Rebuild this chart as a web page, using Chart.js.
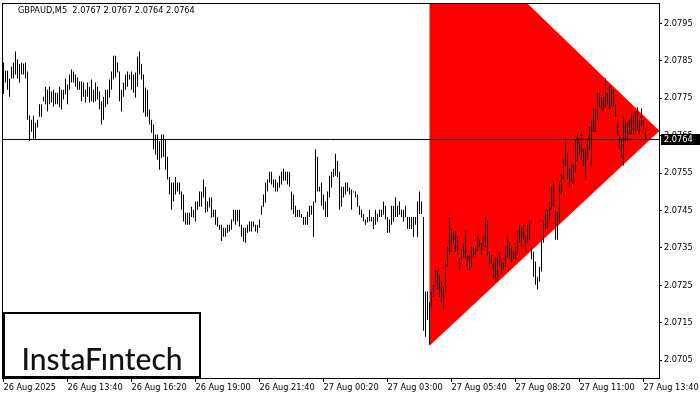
<!DOCTYPE html>
<html>
<head>
<meta charset="utf-8">
<script src="https://cdn.jsdelivr.net/npm/chart.js@4.4.1/dist/chart.umd.min.js"></script>
<style>
  html, body { margin: 0; padding: 0; background: #fff; }
  #wrap { width: 700px; height: 400px; }
</style>
</head>
<body>
<div id="wrap"><canvas id="chart" width="700" height="400"></canvas></div>
<script>
// GBPAUD M5 bars (high / low per bar)
const highs = [
  2.07846,2.07824,2.07824,2.07803,2.07835,2.07846,2.07875,2.07854,2.07841,2.07846,
  2.07843,2.07846,2.07822,2.07704,2.07693,2.07704,2.07685,2.07693,2.07734,2.07734,
  2.07754,2.07781,2.07773,2.07781,2.07768,2.07773,2.07765,2.07765,2.07781,2.07773,
  2.07773,2.07803,2.07787,2.07814,2.07827,2.07822,2.07814,2.07806,2.07795,2.07795,
  2.07792,2.07773,2.07792,2.07781,2.07800,2.07773,2.07792,2.07781,2.07768,2.07742,
  2.07754,2.07773,2.07773,2.07800,2.07822,2.07864,2.07864,2.07846,2.07822,2.07773,
  2.07792,2.07814,2.07822,2.07814,2.07822,2.07814,2.07819,2.07862,2.07875,2.07841,
  2.07814,2.07779,2.07773,2.07720,2.07693,2.07680,2.07653,2.07653,2.07635,2.07653,
  2.07653,2.07640,2.07594,2.07540,2.07525,2.07525,2.07540,2.07525,2.07525,2.07501,
  2.07493,2.07444,2.07444,2.07444,2.07460,2.07452,2.07474,2.07474,2.07501,2.07501,
  2.07533,2.07514,2.07474,2.07485,2.07485,2.07452,2.07452,2.07433,2.07412,2.07412,
  2.07404,2.07404,2.07412,2.07412,2.07426,2.07452,2.07452,2.07452,2.07452,2.07412,
  2.07404,2.07404,2.07412,2.07421,2.07421,2.07421,2.07412,2.07412,2.07426,2.07463,
  2.07493,2.07525,2.07533,2.07554,2.07554,2.07533,2.07533,2.07525,2.07543,2.07554,
  2.07562,2.07554,2.07554,2.07554,2.07501,2.07493,2.07463,2.07452,2.07452,2.07441,
  2.07433,2.07433,2.07447,2.07463,2.07463,2.07474,2.07613,2.07594,2.07514,2.07525,
  2.07493,2.07474,2.07501,2.07543,2.07554,2.07562,2.07602,2.07583,2.07554,2.07514,
  2.07514,2.07525,2.07525,2.07512,2.07506,2.07501,2.07501,2.07493,2.07463,2.07452,
  2.07441,2.07426,2.07433,2.07452,2.07433,2.07433,2.07452,2.07441,2.07452,2.07452,
  2.07474,2.07463,2.07433,2.07426,2.07463,2.07463,2.07485,2.07463,2.07474,2.07452,
  2.07452,2.07463,2.07433,2.07433,2.07433,2.07433,2.07433,2.07474,2.07501,2.07474,
  2.07433,2.07234,2.07234,2.07204,2.07234,2.07252,2.07292,2.07292,2.07279,2.07260,
  2.07244,2.07314,2.07353,2.07433,2.07401,2.07394,2.07394,2.07380,2.07322,2.07346,
  2.07364,2.07394,2.07332,2.07332,2.07353,2.07353,2.07353,2.07383,2.07372,2.07364,
  2.07383,2.07433,2.07423,2.07340,2.07332,2.07311,2.07324,2.07324,2.07340,2.07324,
  2.07311,2.07353,2.07383,2.07364,2.07353,2.07340,2.07353,2.07394,2.07412,2.07404,
  2.07412,2.07383,2.07412,2.07423,2.07353,2.07340,2.07314,2.07273,2.07300,2.07372,
  2.07423,2.07452,2.07452,2.07474,2.07514,2.07525,2.07452,2.07444,2.07525,2.07546,
  2.07586,2.07635,2.07605,2.07564,2.07573,2.07573,2.07640,2.07653,2.07635,2.07663,
  2.07616,2.07616,2.07642,2.07674,2.07693,2.07723,2.07723,2.07765,2.07765,2.07754,
  2.07754,2.07803,2.07765,2.07784,2.07784,2.07776,2.07734,2.07693,2.07653,2.07640,
  2.07701,2.07693,2.07685,2.07693,2.07712,2.07704,2.07715,2.07726,2.07693,2.07723,
  2.07693,2.0767
];
const lows = [
  2.07762,2.07792,2.07773,2.07754,2.07803,2.07803,2.07814,2.07803,2.07792,2.07814,
  2.07814,2.07803,2.07693,2.07635,2.07661,2.07642,2.07642,2.07672,2.07701,2.07701,
  2.07742,2.07734,2.07715,2.07734,2.07739,2.07728,2.07734,2.07734,2.07726,2.07720,
  2.07747,2.07760,2.07734,2.07773,2.07792,2.07792,2.07781,2.07773,2.07773,2.07742,
  2.07754,2.07739,2.07754,2.07739,2.07742,2.07739,2.07742,2.07747,2.07720,2.07680,
  2.07693,2.07726,2.07734,2.07752,2.07773,2.07800,2.07806,2.07819,2.07742,2.07715,
  2.07754,2.07773,2.07781,2.07800,2.07773,2.07765,2.07752,2.07781,2.07814,2.07800,
  2.07712,2.07701,2.07701,2.07680,2.07658,2.07613,2.07600,2.07586,2.07559,2.07591,
  2.07594,2.07559,2.07533,2.07493,2.07452,2.07474,2.07493,2.07501,2.07493,2.07452,
  2.07421,2.07412,2.07412,2.07412,2.07433,2.07431,2.07421,2.07452,2.07460,2.07460,
  2.07485,2.07444,2.07447,2.07458,2.07431,2.07433,2.07412,2.07407,2.07399,2.07369,
  2.07380,2.07380,2.07391,2.07394,2.07399,2.07421,2.07412,2.07421,2.07407,2.07380,
  2.07367,2.07364,2.07391,2.07394,2.07394,2.07407,2.07394,2.07391,2.07404,2.07439,
  2.07460,2.07471,2.07501,2.07525,2.07520,2.07512,2.07501,2.07501,2.07512,2.07520,
  2.07530,2.07530,2.07520,2.07514,2.07452,2.07441,2.07433,2.07433,2.07433,2.07431,
  2.07412,2.07412,2.07412,2.07433,2.07439,2.07380,2.07471,2.07501,2.07501,2.07463,
  2.07452,2.07433,2.07433,2.07485,2.07512,2.07540,2.07543,2.07540,2.07452,2.07460,
  2.07485,2.07493,2.07501,2.07493,2.07452,2.07498,2.07485,2.07460,2.07439,2.07431,
  2.07421,2.07412,2.07418,2.07421,2.07421,2.07401,2.07412,2.07421,2.07433,2.07433,
  2.07439,2.07426,2.07391,2.07391,2.07412,2.07421,2.07433,2.07433,2.07439,2.07433,
  2.07421,2.07433,2.07401,2.07401,2.07401,2.07380,2.07412,2.07380,2.07441,2.07441,
  2.07129,2.07113,2.07158,2.07092,2.07193,2.07220,2.07247,2.07239,2.07220,2.07204,
  2.07180,2.07234,2.07300,2.07332,2.07340,2.07364,2.07340,2.07332,2.07292,2.07319,
  2.07324,2.07322,2.07292,2.07292,2.07300,2.07327,2.07332,2.07340,2.07353,2.07332,
  2.07353,2.07353,2.07332,2.07300,2.07311,2.07271,2.07260,2.07260,2.07300,2.07284,
  2.07292,2.07300,2.07324,2.07322,2.07311,2.07319,2.07311,2.07332,2.07364,2.07353,
  2.07372,2.07340,2.07364,2.07372,2.07319,2.07273,2.07252,2.07239,2.07260,2.07287,
  2.07364,2.07399,2.07404,2.07426,2.07452,2.07460,2.07372,2.07372,2.07418,2.07493,
  2.07533,2.07567,2.07533,2.07512,2.07527,2.07520,2.07551,2.07581,2.07600,2.07586,
  2.07570,2.07533,2.07586,2.07613,2.07570,2.07661,2.07661,2.07693,2.07728,2.07720,
  2.07715,2.07726,2.07734,2.07720,2.07728,2.07728,2.07701,2.07650,2.07613,2.07594,
  2.07570,2.07635,2.07635,2.07653,2.07653,2.07653,2.07661,2.07666,2.07653,2.07674,
  2.07666,2.0764
];

// x axis: bar index of each time label
const timeLabels = ['26 Aug 2025', '26 Aug 13:40', '26 Aug 16:20', '26 Aug 19:00', '26 Aug 21:40',
  '27 Aug 00:20', '27 Aug 03:00', '27 Aug 05:40', '27 Aug 08:20', '27 Aug 11:00', '27 Aug 13:40'];
const timeTickBars = [0, 32, 64, 96, 128, 160, 192, 224, 256, 288, 320];

// y axis
const priceTicks = [2.0705, 2.0715, 2.0725, 2.0735, 2.0745, 2.0755, 2.0765, 2.0775, 2.0785, 2.0795];
const priceMin = 2.070025;
const priceMax = 2.080048;

// current price and the triangle pattern (bar index / price)
const lastPrice = 2.0764;
const titleText = 'GBPAUD,M5  2.0767 2.0767 2.0764 2.0764';
const triangleBars = [213, 328, 213, 213];
const trianglePrices = [2.08256, 2.07663, 2.07089, 2.08256];

const xMin = -0.75;
const xMax = 327.75;

const AXIS_FONT = { family: 'DejaVu Sans', size: 8.2 };

const bars = highs.map((h, i) => ({ x: i, y: [lows[i], h] }));
const triangle = triangleBars.map((b, i) => ({ x: b, y: trianglePrices[i] }));
const priceLine = [{ x: xMin, y: lastPrice }, { x: xMax, y: lastPrice }];

// frame, title, logo and the current price marker
const decorations = {
    id: 'decorations',
    afterDraw(chart) {
        const ctx = chart.ctx;
        const a = chart.chartArea;
        ctx.save();
        ctx.strokeStyle = '#000';
        ctx.lineWidth = 1;
        ctx.strokeRect(Math.round(a.left) + 0.5, Math.round(a.top) + 0.5,
            Math.round(a.right - a.left), Math.round(a.bottom - a.top));

        ctx.fillStyle = '#000';
        ctx.font = '8.2px "DejaVu Sans"';
        ctx.textBaseline = 'middle';
        ctx.textAlign = 'left';
        ctx.fillText(titleText, 18, 11);

        // logo box
        ctx.fillStyle = '#fff';
        ctx.fillRect(3, 312, 198, 66);
        ctx.lineWidth = 2;
        ctx.strokeRect(4, 313, 196, 64);
        ctx.fillStyle = '#111';
        ctx.font = '500 30px Lato';
        ctx.textAlign = 'center';
        ctx.textBaseline = 'alphabetic';
        ctx.fillText('InstaF\u0131ntech', 102, 370);

        // price label on the right axis
        const py = chart.scales.y.getPixelForValue(lastPrice);
        ctx.fillStyle = '#000';
        ctx.fillRect(661, Math.floor(py) - 5, 39, 11);
        ctx.fillStyle = '#fff';
        ctx.font = '8.2px "DejaVu Sans"';
        ctx.textAlign = 'left';
        ctx.textBaseline = 'middle';
        ctx.fillText(lastPrice.toFixed(4), 664, Math.floor(py) + 0.5);
        ctx.restore();
    }
};

new Chart(document.getElementById('chart').getContext('2d'), {
    type: 'bar',
    data: {
        datasets: [
            { type: 'line', data: priceLine, borderColor: '#000', borderWidth: 1, pointRadius: 0, order: 0 },
            { type: 'bar', data: bars, backgroundColor: '#000', barThickness: 1, inflateAmount: 0,
              borderWidth: 0, grouped: false, order: 1 },
            { type: 'line', data: triangle, fill: 'shape', backgroundColor: '#ff0000',
              borderColor: 'rgba(0,0,0,0)', borderWidth: 1, pointRadius: 0, order: 2 }
        ]
    },
    options: {
        responsive: false,
        animation: false,
        events: [],
        layout: { padding: { left: 2, top: 3, right: 0, bottom: 0 } },
        plugins: { legend: { display: false }, tooltip: { enabled: false } },
        scales: {
            x: {
                type: 'linear',
                min: xMin,
                max: xMax,
                offset: false,
                grid: { drawOnChartArea: false, tickLength: 4, color: '#000', offset: false },
                border: { color: '#000' },
                ticks: {
                    align: 'start', maxRotation: 0, autoSkip: false, padding: 1,
                    color: '#000', font: AXIS_FONT,
                    callback: (v, i) => timeLabels[i]
                },
                afterBuildTicks: s => { s.ticks = timeTickBars.map(v => ({ value: v })); },
                afterFit: s => { s.height = 22; s.paddingLeft = 0; s.paddingRight = 0; }
            },
            y: {
                type: 'linear',
                position: 'right',
                min: priceMin,
                max: priceMax,
                grid: { drawOnChartArea: false, tickLength: 3, color: '#000' },
                border: { color: '#000' },
                ticks: {
                    color: '#000', font: AXIS_FONT, padding: 2, autoSkip: false,
                    callback: v => Number(v).toFixed(4)
                },
                afterBuildTicks: s => { s.ticks = priceTicks.map(v => ({ value: v })); },
                afterFit: s => { s.width = 41; s.paddingTop = 0; s.paddingBottom = 0; }
            }
        }
    },
    plugins: [decorations]
});
</script>
</body>
</html>
